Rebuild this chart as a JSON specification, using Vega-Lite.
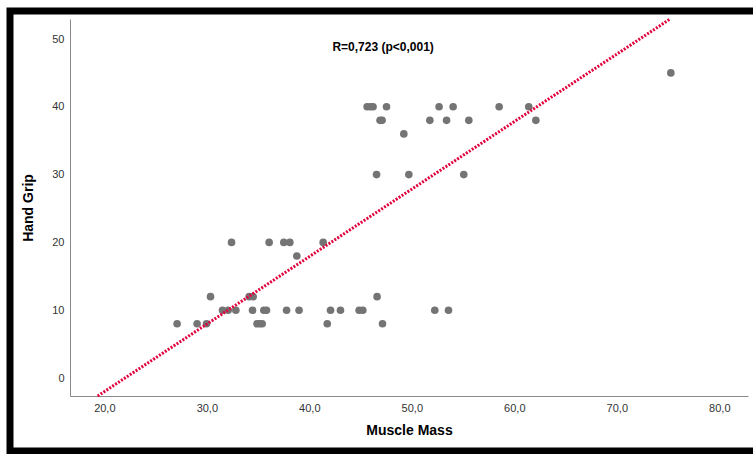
{
  "$schema": "https://vega.github.io/schema/vega-lite/v6.json",
  "width": 747,
  "height": 440,
  "autosize": {"type": "none"},
  "padding": {"left": 10, "top": 11, "right": -4, "bottom": 3},
  "background": "white",
  "config": {
    "font": "Liberation Sans",
    "view": {"stroke": "black", "strokeWidth": 7, "fill": "white"}
  },
  "datasets": {
    "points": [
      {"mm": 27.1, "hg": 8}, {"mm": 29.05, "hg": 8}, {"mm": 29.97, "hg": 8}, {"mm": 34.9, "hg": 8},
      {"mm": 35.17, "hg": 8}, {"mm": 35.4, "hg": 8}, {"mm": 41.75, "hg": 8}, {"mm": 47.14, "hg": 8},
      {"mm": 31.53, "hg": 10}, {"mm": 32.08, "hg": 10}, {"mm": 32.83, "hg": 10}, {"mm": 34.46, "hg": 10},
      {"mm": 35.56, "hg": 10}, {"mm": 35.82, "hg": 10}, {"mm": 37.78, "hg": 10}, {"mm": 39.0, "hg": 10},
      {"mm": 42.07, "hg": 10}, {"mm": 43.04, "hg": 10}, {"mm": 44.86, "hg": 10}, {"mm": 45.22, "hg": 10},
      {"mm": 52.24, "hg": 10}, {"mm": 53.58, "hg": 10},
      {"mm": 30.36, "hg": 12}, {"mm": 34.13, "hg": 12}, {"mm": 34.52, "hg": 12}, {"mm": 46.61, "hg": 12},
      {"mm": 38.78, "hg": 18},
      {"mm": 32.41, "hg": 20}, {"mm": 36.08, "hg": 20}, {"mm": 37.51, "hg": 20}, {"mm": 38.1, "hg": 20}, {"mm": 41.35, "hg": 20},
      {"mm": 46.56, "hg": 30}, {"mm": 49.71, "hg": 30}, {"mm": 55.07, "hg": 30},
      {"mm": 49.22, "hg": 36},
      {"mm": 46.9, "hg": 38}, {"mm": 47.1, "hg": 38}, {"mm": 51.76, "hg": 38}, {"mm": 53.39, "hg": 38},
      {"mm": 55.56, "hg": 38}, {"mm": 62.1, "hg": 38},
      {"mm": 45.64, "hg": 40}, {"mm": 45.97, "hg": 40}, {"mm": 46.22, "hg": 40}, {"mm": 47.53, "hg": 40},
      {"mm": 52.66, "hg": 40}, {"mm": 54.03, "hg": 40}, {"mm": 58.52, "hg": 40}, {"mm": 61.41, "hg": 40},
      {"mm": 75.27, "hg": 45}
    ],
    "fit": [
      {"mm": 19.35, "hg": -2.65},
      {"mm": 75.2, "hg": 52.95}
    ],
    "note": [
      {"mm": 47.2, "hg": 48.8, "label": "R=0,723 (p<0,001)"}
    ]
  },
  "layer": [
    {
      "data": {"name": "points"},
      "mark": {"type": "point", "filled": true, "size": 58, "color": "#747474", "opacity": 1},
      "encoding": {
        "x": {
          "field": "mm", "type": "quantitative",
          "scale": {"domain": [16.65, 82.8], "range": [60, 738], "nice": false, "zero": false},
          "axis": {
            "orient": "bottom", "offset": -55,
            "values": [20, 30, 40, 50, 60, 70, 80],
            "labelExpr": "replace(format(datum.value, '.1f'), '.', ',')",
            "ticks": false, "grid": false,
            "domainColor": "#8a8a8a", "domainWidth": 1,
            "labelColor": "#333333", "labelFontSize": 11, "labelPadding": 6,
            "title": "Muscle Mass", "titleFontSize": 14, "titleFontWeight": "bold",
            "titleColor": "#000000", "titlePadding": 10
          }
        },
        "y": {
          "field": "hg", "type": "quantitative",
          "scale": {"domain": [-2.65, 52.95], "range": [385, 8], "nice": false, "zero": false},
          "axis": {
            "orient": "left", "offset": -60,
            "values": [0, 10, 20, 30, 40, 50],
            "ticks": false, "grid": false,
            "domainColor": "#8a8a8a", "domainWidth": 1,
            "labelColor": "#333333", "labelFontSize": 11, "labelPadding": 6,
            "title": "Hand Grip", "titleFontSize": 14, "titleFontWeight": "bold",
            "titleColor": "#000000", "titlePadding": 16
          }
        }
      }
    },
    {
      "data": {"name": "fit"},
      "mark": {"type": "line", "color": "#e0003c", "strokeWidth": 3, "strokeDash": [2, 1.5]},
      "encoding": {
        "x": {"field": "mm", "type": "quantitative"},
        "y": {"field": "hg", "type": "quantitative"}
      }
    },
    {
      "data": {"name": "note"},
      "mark": {"type": "text", "fontWeight": "bold", "fontSize": 12, "color": "#000000"},
      "encoding": {
        "x": {"field": "mm", "type": "quantitative"},
        "y": {"field": "hg", "type": "quantitative"},
        "text": {"field": "label"}
      }
    }
  ]
}
